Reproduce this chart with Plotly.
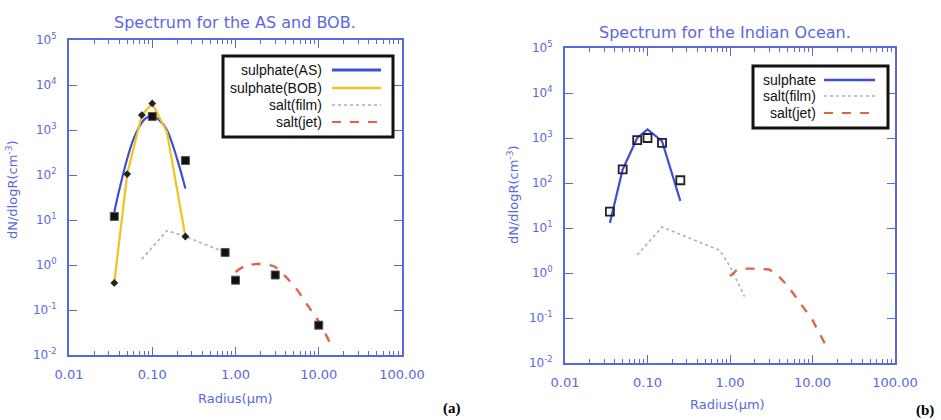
import plotly.graph_objects as go

W, H = 941, 420

# ---------------- data: panel (a) AS and BOB ----------------
as_line_r = [0.035, 0.04, 0.05, 0.06, 0.07, 0.08, 0.09, 0.10, 0.12, 0.15, 0.20, 0.25]
as_line_n = [15, 45, 230, 650, 1200, 1700, 2000, 2100, 1700, 1000, 220, 50]

bob_line_r = [0.035, 0.05, 0.075, 0.10, 0.15, 0.25]
bob_line_n = [0.4, 105, 2150, 3900, 900, 4.3]
bob_pts_r = [0.035, 0.05, 0.075, 0.10, 0.25]
bob_pts_n = [0.4, 105, 2150, 3900, 4.3]

film_a_r = [0.075, 0.15, 0.25, 0.75]
film_a_n = [1.35, 5.8, 4.3, 1.9]

jet_a_r = [1.0, 1.3, 1.8, 2.5, 3.0, 4.0, 5.5, 7.5, 10.0, 14.0]
jet_a_n = [0.7, 0.95, 1.05, 1.0, 0.9, 0.55, 0.28, 0.12, 0.055, 0.017]

obs_a_r = [0.035, 0.10, 0.25, 0.75, 1.0, 3.0, 10.0]
obs_a_n = [12, 2000, 210, 1.9, 0.46, 0.6, 0.046]

# ---------------- data: panel (b) Indian Ocean ----------------
sul_b_r = [0.035, 0.05, 0.075, 0.10, 0.15, 0.25]
sul_b_n = [13, 200, 1000, 1550, 850, 40]

obs_b_r = [0.035, 0.05, 0.075, 0.10, 0.15, 0.25]
obs_b_n = [23, 200, 900, 1000, 780, 115]

film_b_r = [0.075, 0.15, 0.75, 1.0, 1.5]
film_b_n = [2.5, 10.5, 3.2, 1.4, 0.3]

jet_b_r = [1.0, 1.2, 1.5, 2.0, 3.0, 4.0, 5.0, 7.0, 10.0, 15.0]
jet_b_n = [0.85, 1.15, 1.25, 1.25, 1.2, 0.8, 0.52, 0.22, 0.09, 0.022]

# ---------------- tick labels ----------------
x_tick_vals = [0.01, 0.1, 1, 10, 100]
x_tick_text = ["0.01", "0.10", "1.00", "10.00", "100.00"]
x_minor_vals = [m * 10.0 ** e for e in range(-2, 2) for m in range(2, 10)]
y_tick_vals = [1e-2, 1e-1, 1e0, 1e1, 1e2, 1e3, 1e4, 1e5]
y_tick_text = ["10<sup>-2</sup>", "10<sup>-1</sup>", "10<sup>0</sup>", "10<sup>1</sup>",
               "10<sup>2</sup>", "10<sup>3</sup>", "10<sup>4</sup>", "10<sup>5</sup>"]

BLUE_AX = "#5a68e0"
C_AS = "#3f4fd4"
C_BOB = "#f2c21e"
C_FILM = "#9fb2d4"
C_JET = "#e2624e"
FONT = "DejaVu Sans"
LFONT = "Liberation Sans"

fig = go.Figure()

# panel (a)
fig.add_trace(go.Scatter(x=as_line_r, y=as_line_n, mode="lines", name="sulphate(AS)",
                         line=dict(color=C_AS, width=2.2, shape="spline"), xaxis="x", yaxis="y"))
fig.add_trace(go.Scatter(x=bob_line_r, y=bob_line_n, mode="lines", name="sulphate(BOB)",
                         line=dict(color=C_BOB, width=2.2), xaxis="x", yaxis="y"))
fig.add_trace(go.Scatter(x=film_a_r, y=film_a_n, mode="lines", name="salt(film)",
                         line=dict(color=C_FILM, width=1.6, dash="dot"), xaxis="x", yaxis="y"))
fig.add_trace(go.Scatter(x=jet_a_r, y=jet_a_n, mode="lines", name="salt(jet)",
                         line=dict(color=C_JET, width=2.4, dash="dash", shape="spline"),
                         xaxis="x", yaxis="y"))
fig.add_trace(go.Scatter(x=bob_pts_r, y=bob_pts_n, mode="markers", showlegend=False,
                         marker=dict(symbol="diamond", size=6, color="#222222"),
                         xaxis="x", yaxis="y"))
fig.add_trace(go.Scatter(x=obs_a_r, y=obs_a_n, mode="markers", showlegend=False,
                         marker=dict(symbol="square", size=8, color="#111111",
                                     line=dict(color="#555555", width=1)),
                         xaxis="x", yaxis="y"))

# panel (b)
fig.add_trace(go.Scatter(x=sul_b_r, y=sul_b_n, mode="lines", name="sulphate",
                         line=dict(color=C_AS, width=2.2), xaxis="x2", yaxis="y2"))
fig.add_trace(go.Scatter(x=film_b_r, y=film_b_n, mode="lines", name="salt(film)",
                         line=dict(color=C_FILM, width=1.6, dash="dot"), xaxis="x2", yaxis="y2"))
fig.add_trace(go.Scatter(x=jet_b_r, y=jet_b_n, mode="lines", name="salt(jet)",
                         line=dict(color=C_JET, width=2.4, dash="dash"), xaxis="x2", yaxis="y2"))
fig.add_trace(go.Scatter(x=obs_b_r, y=obs_b_n, mode="markers", showlegend=False,
                         marker=dict(symbol="square-open", size=8, color="#222222",
                                     line=dict(width=1.8)),
                         xaxis="x2", yaxis="y2"))


def px(x):
    return x / W


def py(y):
    return 1 - y / H


def xaxis(dom, anchor):
    return dict(type="log", range=[-2, 2], domain=dom, anchor=anchor, automargin=False,
                tickmode="array", tickvals=x_tick_vals, ticktext=x_tick_text,
                ticks="inside", ticklen=8, tickwidth=1.2, tickcolor=BLUE_AX,
                showline=True, linecolor=BLUE_AX, linewidth=2, mirror="allticks",
                showgrid=False, zeroline=False,
                minor=dict(tickmode="array", tickvals=x_minor_vals, ticks="inside", ticklen=4,
                           tickwidth=1, tickcolor=BLUE_AX, showgrid=False),
                tickfont=dict(family=FONT, size=13, color=BLUE_AX), ticklabelstandoff=6)


def yaxis(dom, anchor):
    return dict(type="log", range=[-2, 5], domain=dom, anchor=anchor, automargin=False,
                tickmode="array", tickvals=y_tick_vals, ticktext=y_tick_text,
                ticks="inside", ticklen=8, tickwidth=1.2, tickcolor=BLUE_AX,
                showline=True, linecolor=BLUE_AX, linewidth=2, mirror="allticks",
                showgrid=False, zeroline=False,
                tickfont=dict(family=FONT, size=12, color=BLUE_AX), ticklabelstandoff=8)


fig.update_layout(
    width=W, height=H, margin=dict(l=0, r=0, t=0, b=0, autoexpand=False),
    paper_bgcolor="white", plot_bgcolor="white", showlegend=False,
    font=dict(family=FONT, size=12, color=BLUE_AX),
    xaxis=xaxis([px(69), px(402)], "y"),
    yaxis=yaxis([py(355), py(40)], "x"),
    xaxis2=xaxis([px(565), px(895)], "y2"),
    yaxis2=yaxis([py(363), py(48)], "x2"),
)

ann = []
shapes = []


def add_text(text, x, y, size, color, family=FONT, xanchor="center", angle=0):
    ann.append(dict(text=text, x=px(x), y=py(y), xref="paper", yref="paper",
                    xanchor=xanchor, yanchor="middle", textangle=angle, showarrow=False,
                    font=dict(family=family, size=size, color=color)))


# titles
add_text("Spectrum for the AS and BOB.", 235, 22, 16, BLUE_AX)
add_text("Spectrum for the Indian Ocean.", 725, 33, 16, BLUE_AX)
# axis titles
add_text("Radius(μm)", 235, 398, 13, BLUE_AX)
add_text("Radius(μm)", 727, 404, 13, BLUE_AX)
add_text("dN/dlogR(cm<sup>-3</sup>)", 12, 190, 13, BLUE_AX, angle=-90)
add_text("dN/dlogR(cm<sup>-3</sup>)", 513, 195, 13, BLUE_AX, angle=-90)
# panel labels
add_text("<b>(a)</b>", 452, 408, 15, "black", family="Liberation Serif")
add_text("<b>(b)</b>", 925, 410, 15, "black", family="Liberation Serif")

# legends (text left, line sample right)
leg_a = [("sulphate(AS)", C_AS, "solid", 3), ("sulphate(BOB)", C_BOB, "solid", 2.5),
         ("salt(film)", C_FILM, "dot", 1.6), ("salt(jet)", C_JET, "dash", 2)]
leg_b = [("sulphate", C_AS, "solid", 2.5), ("salt(film)", C_FILM, "dot", 1.6),
         ("salt(jet)", C_JET, "dash", 2)]


def legend(items, box, rows, text_right, l0, l1):
    x0, y0, x1, y1 = box
    shapes.append(dict(type="rect", xref="paper", yref="paper", x0=px(x0), x1=px(x1),
                       y0=py(y1), y1=py(y0), line=dict(color="#111111", width=3),
                       fillcolor="white", layer="above"))
    for (label, col, dash, wd), ry in zip(items, rows):
        add_text(label, text_right, ry, 14, "#111111", family=LFONT, xanchor="right")
        shapes.append(dict(type="line", xref="paper", yref="paper", x0=px(l0), x1=px(l1),
                           y0=py(ry), y1=py(ry), line=dict(color=col, width=wd, dash=dash),
                           layer="above"))


legend(leg_a, (223, 56, 393, 137), [70, 88, 105, 122], 324, 332, 381)
legend(leg_b, (753, 66, 888, 128), [80, 96, 113], 818, 824, 875)

fig.update_layout(annotations=ann, shapes=shapes)
fig.write_html("out.html", config={"displayModeBar": False},
               post_script="document.body.style.margin='0px';")
